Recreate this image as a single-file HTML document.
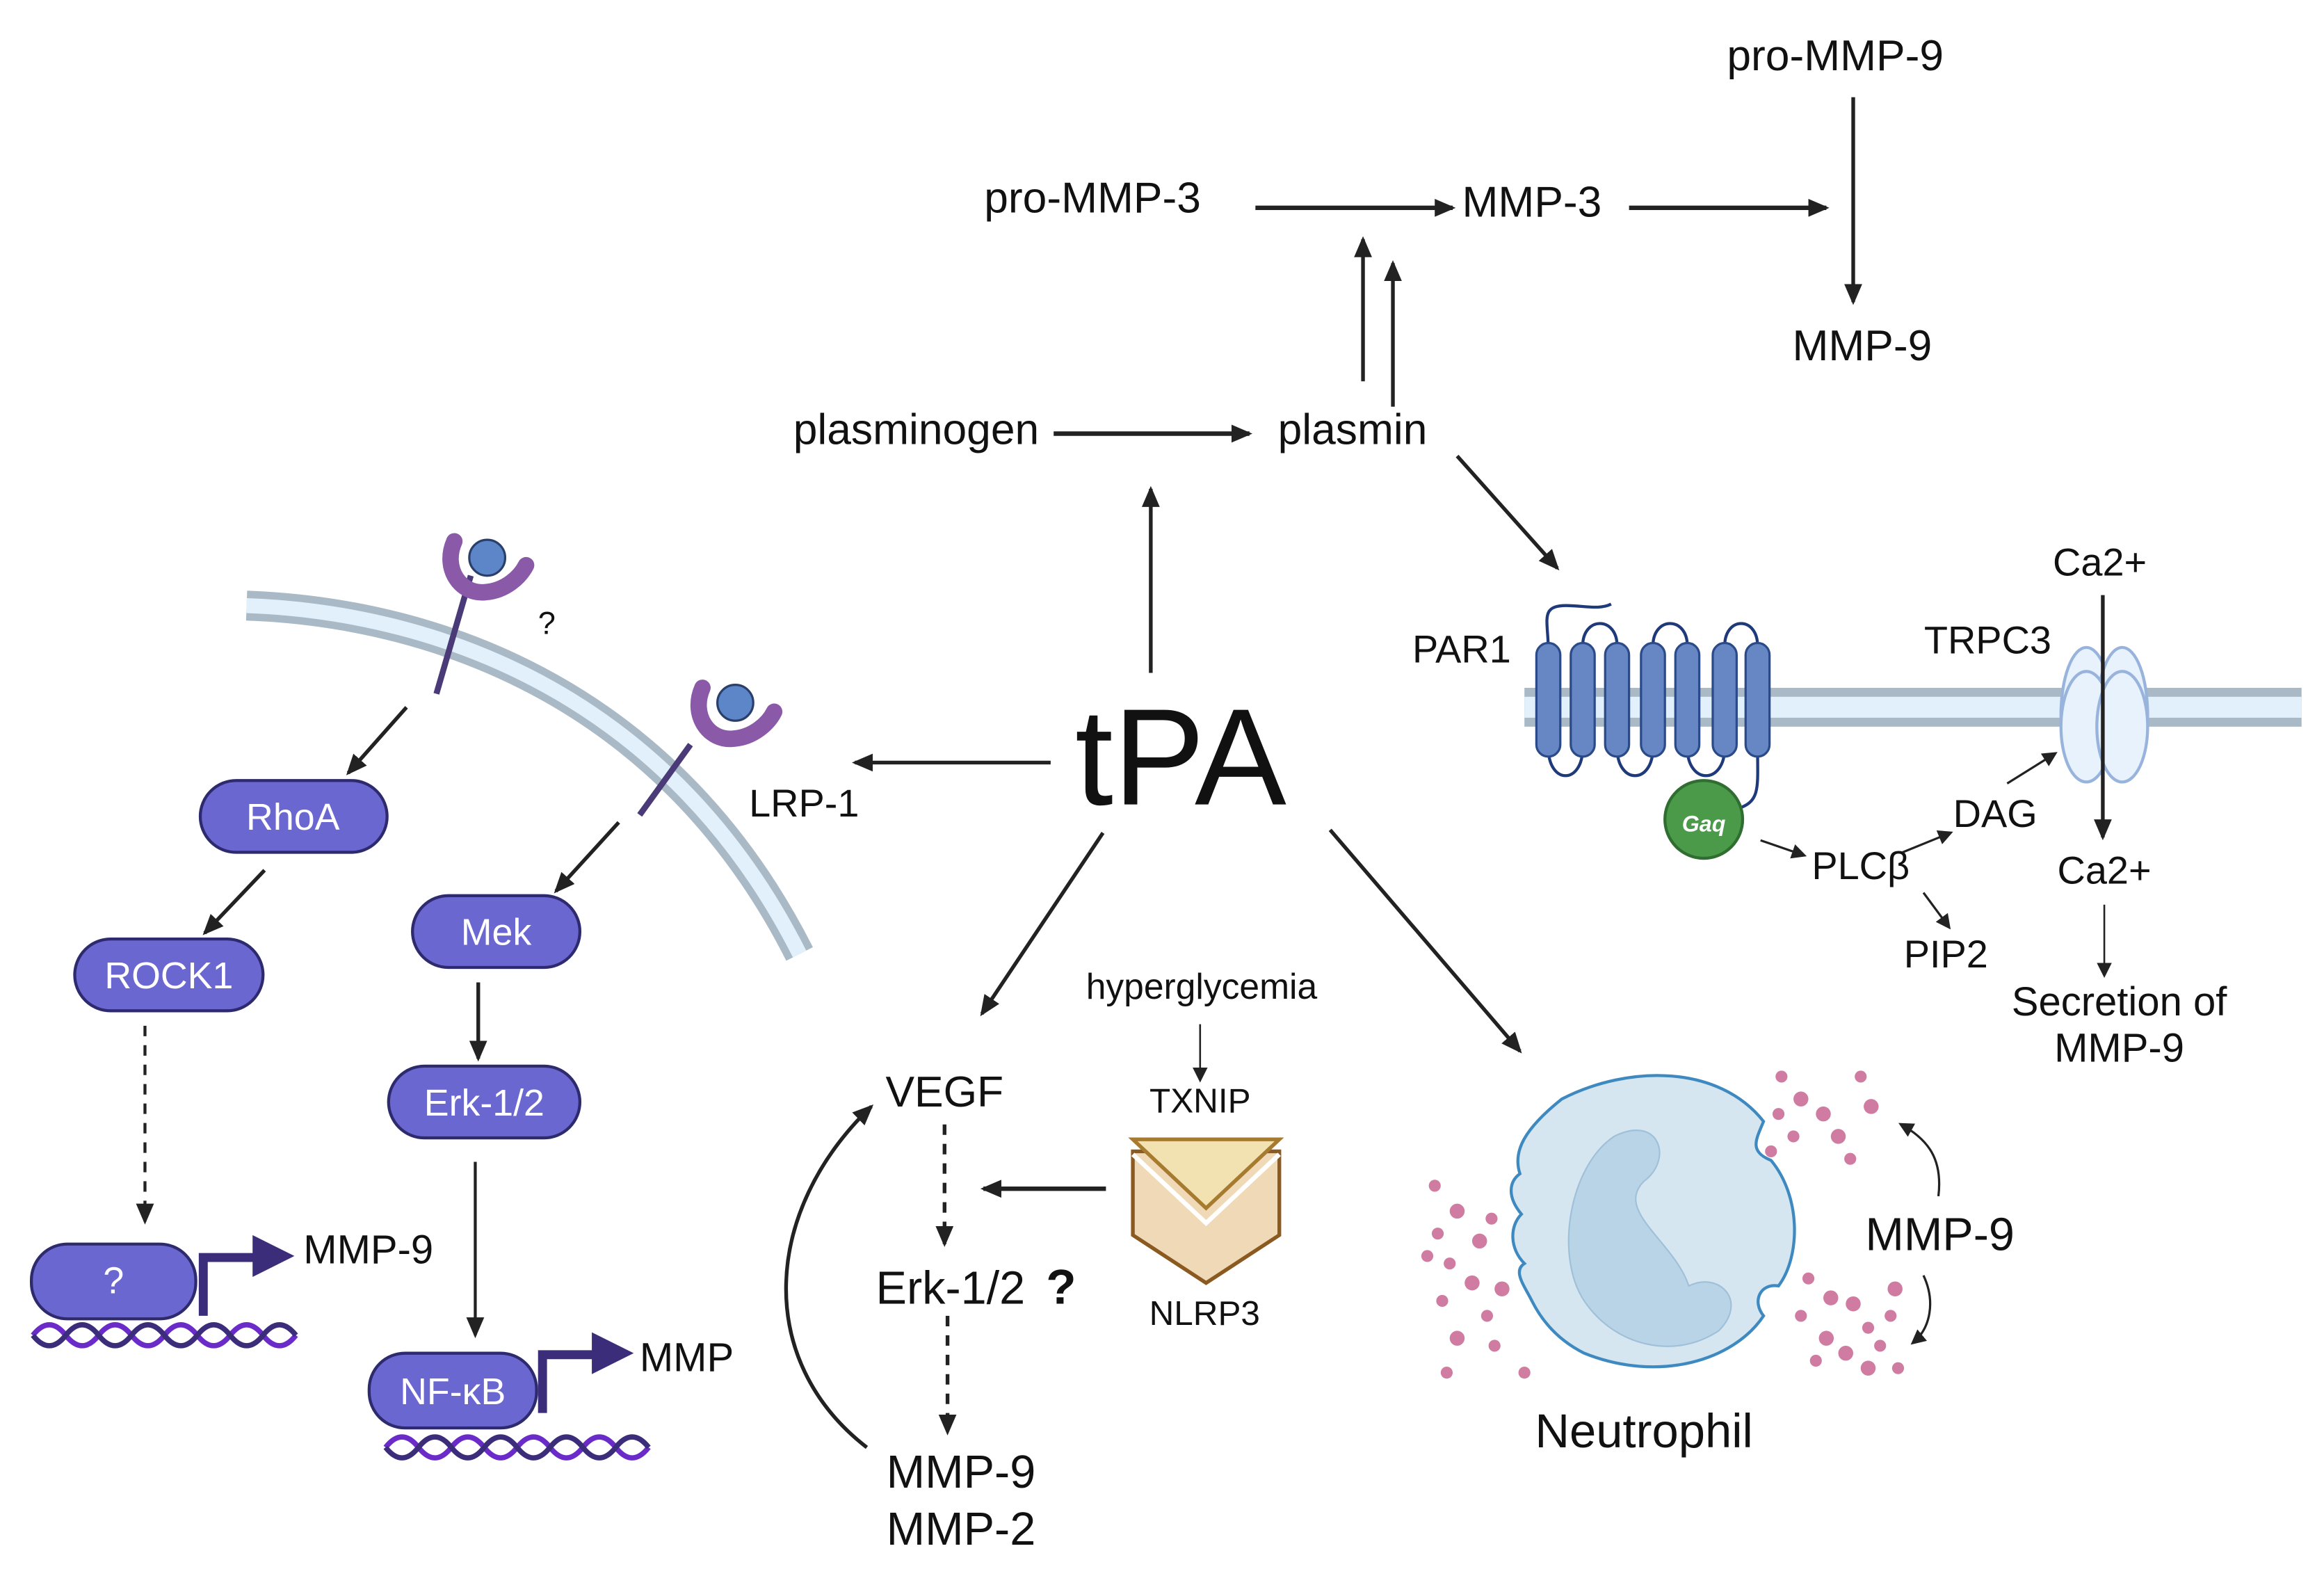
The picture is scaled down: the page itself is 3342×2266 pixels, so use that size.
<!DOCTYPE html>
<html><head><meta charset="utf-8"><style>
html,body{margin:0;padding:0;background:#fff;}
svg{display:block;}
text{font-family:"Liberation Sans",sans-serif;fill:#111;}
</style></head><body>
<svg width="3342" height="2266" viewBox="0 0 1555 1054" preserveAspectRatio="none" xmlns="http://www.w3.org/2000/svg">
<defs>
<marker id="a" markerWidth="10" markerHeight="10" refX="8" refY="5" orient="auto" markerUnits="userSpaceOnUse"><path d="M0,0 L10,5 L0,10 z" fill="#222"/></marker>
<marker id="c" markerWidth="14" markerHeight="12" refX="12" refY="6" orient="auto" markerUnits="userSpaceOnUse"><path d="M0,0 L14,6 L0,12 z" fill="#222"/></marker>
</defs>
<rect width="1555" height="1054" fill="#fff"/>

<g font-size="29">
<text x="1228" y="47" text-anchor="middle">pro-MMP-9</text>
<text x="1246" y="241" text-anchor="middle">MMP-9</text>
<text x="731" y="142" text-anchor="middle">pro-MMP-3</text>
<text x="1025" y="145" text-anchor="middle">MMP-3</text>
<text x="613" y="297" text-anchor="middle">plasminogen</text>
<text x="905" y="297" text-anchor="middle">plasmin</text>
</g>
<g font-size="26">
<text x="538" y="546" text-anchor="middle">LRP-1</text>
<text x="978" y="443" text-anchor="middle">PAR1</text>
<text x="1330" y="437" text-anchor="middle">TRPC3</text>
<text x="1405" y="385" text-anchor="middle">Ca2+</text>
<text x="1408" y="591" text-anchor="middle">Ca2+</text>
<text x="1335" y="553" text-anchor="middle">DAG</text>
<text x="1245" y="588" text-anchor="middle">PLCβ</text>
<text x="1302" y="647" text-anchor="middle">PIP2</text>
<text x="1418" y="679" text-anchor="middle" font-size="27">Secretion of</text>
<text x="1418" y="710" text-anchor="middle" font-size="27">MMP-9</text>
</g>
<text x="1298" y="836" text-anchor="middle" font-size="31">MMP-9</text>
<text x="1100" y="968" text-anchor="middle" font-size="32">Neutrophil</text>
<text x="804" y="668" text-anchor="middle" font-size="24">hyperglycemia</text>
<text x="803" y="744" text-anchor="middle" font-size="23">TXNIP</text>
<text x="806" y="886" text-anchor="middle" font-size="23">NLRP3</text>
<text x="632" y="740" text-anchor="middle" font-size="29">VEGF</text>
<text x="636" y="872" text-anchor="middle" font-size="31">Erk-1/2</text>
<text x="710" y="872" text-anchor="middle" font-size="33" font-weight="bold">?</text>
<text x="643" y="995" text-anchor="middle" font-size="31">MMP-9</text>
<text x="643" y="1033" text-anchor="middle" font-size="31">MMP-2</text>
<text x="203" y="845" font-size="27">MMP-9</text>
<text x="428" y="917" font-size="27">MMP</text>
<text x="360" y="424" font-size="21">?</text>
<text x="790" y="538" text-anchor="middle" font-size="92">tPA</text>

<g stroke="#222" fill="none">
<line x1="1240" y1="65" x2="1240" y2="202" stroke-width="2.5" marker-end="url(#c)"/>
<line x1="840" y1="139" x2="972" y2="139" stroke-width="3" marker-end="url(#c)"/>
<line x1="1090" y1="139" x2="1222" y2="139" stroke-width="3" marker-end="url(#c)"/>
<line x1="912" y1="255" x2="912" y2="160" stroke-width="2.5" marker-end="url(#c)"/>
<line x1="932" y1="272" x2="932" y2="176" stroke-width="2.5" marker-end="url(#c)"/>
<line x1="705" y1="290" x2="836" y2="290" stroke-width="3" marker-end="url(#c)"/>
<line x1="975" y1="305" x2="1042" y2="380" stroke-width="2.5" marker-end="url(#c)"/>
<line x1="770" y1="450" x2="770" y2="327" stroke-width="2.5" marker-end="url(#c)"/>
<line x1="703" y1="510" x2="572" y2="510" stroke-width="2.5" marker-end="url(#c)"/>
<line x1="738" y1="557" x2="657" y2="678" stroke-width="2.5" marker-end="url(#c)"/>
<line x1="890" y1="555" x2="1017" y2="703" stroke-width="2.5" marker-end="url(#c)"/>
<line x1="740" y1="795" x2="658" y2="795" stroke-width="3" marker-end="url(#c)"/>
<line x1="803" y1="685" x2="803" y2="722" stroke-width="1.2" marker-end="url(#a)"/>
<line x1="632" y1="752" x2="632" y2="832" stroke-width="2.5" stroke-dasharray="7,6" marker-end="url(#c)"/>
<line x1="634" y1="880" x2="634" y2="958" stroke-width="2.5" stroke-dasharray="7,6" marker-end="url(#c)"/>
<path d="M580,968 C505,910 510,810 583,740" stroke-width="2.5" marker-end="url(#c)"/>
<line x1="272" y1="473" x2="233" y2="517" stroke-width="2.5" marker-end="url(#c)"/>
<line x1="177" y1="582" x2="137" y2="624" stroke-width="2.5" marker-end="url(#c)"/>
<line x1="414" y1="550" x2="372" y2="596" stroke-width="2.5" marker-end="url(#c)"/>
<line x1="320" y1="657" x2="320" y2="708" stroke-width="2.5" marker-end="url(#c)"/>
<line x1="318" y1="777" x2="318" y2="893" stroke-width="2" marker-end="url(#c)"/>
<line x1="97" y1="686" x2="97" y2="817" stroke-width="2" stroke-dasharray="7,6" marker-end="url(#c)"/>
<line x1="1178" y1="562" x2="1207" y2="572" stroke-width="1.5" marker-end="url(#a)"/>
<line x1="1273" y1="570" x2="1305" y2="557" stroke-width="1.5" marker-end="url(#a)"/>
<line x1="1287" y1="597" x2="1304" y2="620" stroke-width="1.5" marker-end="url(#a)"/>
<line x1="1343" y1="524" x2="1375" y2="504" stroke-width="1.5" marker-end="url(#a)"/>
<line x1="1408" y1="605" x2="1408" y2="652" stroke-width="1.2" marker-end="url(#a)"/>
<path d="M1297,800 C1300,775 1290,762 1272,752" stroke-width="1.5" marker-end="url(#a)"/>
<path d="M1287,853 C1295,870 1292,888 1280,898" stroke-width="1.5" marker-end="url(#a)"/>
</g>

<path d="M165,405 C300,410 450,470 535,638" stroke="#a9bac6" stroke-width="20" fill="none"/>
<path d="M165,405 C300,410 450,470 535,638" stroke="#e2f0fb" stroke-width="10" fill="none"/>
<g>
<line x1="315" y1="385" x2="292" y2="464" stroke="#4b3a78" stroke-width="4"/>
<path d="M304,362 C296,380 308,398 325,396 C338,395 348,386 352,378" stroke="#8a5aa8" stroke-width="11" fill="none" stroke-linecap="round"/>
<circle cx="326" cy="373" r="12" fill="#5c86c8" stroke="#2a3f6a" stroke-width="1.5"/>
<line x1="462" y1="498" x2="428" y2="545" stroke="#4b3a78" stroke-width="4"/>
<path d="M470,460 C462,478 474,496 491,494 C504,493 514,484 518,476" stroke="#8a5aa8" stroke-width="11" fill="none" stroke-linecap="round"/>
<circle cx="492" cy="470" r="12" fill="#5c86c8" stroke="#2a3f6a" stroke-width="1.5"/>
</g>
<g fill="#6b67d1" stroke="#2e2a6e" stroke-width="2">
<rect x="134" y="522" width="125" height="48" rx="24"/>
<rect x="50" y="628" width="126" height="48" rx="24"/>
<rect x="276" y="599" width="112" height="48" rx="24"/>
<rect x="260" y="713" width="128" height="48" rx="24"/>
<rect x="247" y="905" width="112" height="50" rx="24"/>
<rect x="21" y="832" width="110" height="50" rx="24"/>
</g>
<g font-size="25" text-anchor="middle">
<text x="196" y="555" style="fill:#fff">RhoA</text>
<text x="113" y="661" style="fill:#fff">ROCK1</text>
<text x="332" y="632" style="fill:#fff">Mek</text>
<text x="324" y="746" style="fill:#fff">Erk-1/2</text>
<text x="303" y="939" style="fill:#fff">NF-κB</text>
<text x="76" y="865" style="fill:#fff">?</text>
</g>
<g fill="#3b2d7a">
<path d="M133,880 v-42 h36 v-12 l28,14 l-28,14 v-10 h-30 v36 z"/>
<path d="M360,945 v-42 h36 v-12 l28,14 l-28,14 v-10 h-30 v36 z"/>
</g>
<g fill="none" stroke-width="3.5">
<path d="M22,893 q11,-14 22,0 t22,0 t22,0 t22,0 t22,0 t22,0 t22,0 t22,0" stroke="#6a2bc9"/>
<path d="M22,893 q11,14 22,0 t22,0 t22,0 t22,0 t22,0 t22,0 t22,0 t22,0" stroke="#3b2d7a"/>
<path d="M258,968 q11,-14 22,0 t22,0 t22,0 t22,0 t22,0 t22,0 t22,0 t22,0" stroke="#6a2bc9"/>
<path d="M258,968 q11,14 22,0 t22,0 t22,0 t22,0 t22,0 t22,0 t22,0 t22,0" stroke="#3b2d7a"/>
</g>

<rect x="1020" y="460" width="520" height="26" fill="#a9bac6"/>
<rect x="1020" y="466" width="520" height="14" fill="#e2f0fb"/>
<g fill="none" stroke="#1f3a7a" stroke-width="2">
<path d="M1036,435 C1036,415 1030,405 1048,405 C1060,405 1070,408 1078,404"/>
<path d="M1059,432 C1059,412 1082,412 1082,432"/><path d="M1106,432 C1106,412 1129,412 1129,432"/><path d="M1154,432 C1154,412 1176,412 1176,432"/>
<path d="M1036,500 C1036,525 1059,525 1059,500"/><path d="M1082,500 C1082,525 1106,525 1106,500"/><path d="M1129,500 C1129,525 1154,525 1154,500"/>
<path d="M1176,500 C1176,525 1178,535 1165,540"/>
</g>
<g fill="#6787c4" stroke="#2a4a8a" stroke-width="1.5">
<rect x="1028" y="430" width="16" height="76" rx="8"/><rect x="1051" y="430" width="16" height="76" rx="8"/>
<rect x="1074" y="430" width="16" height="76" rx="8"/><rect x="1098" y="430" width="16" height="76" rx="8"/>
<rect x="1121" y="430" width="16" height="76" rx="8"/><rect x="1146" y="430" width="16" height="76" rx="8"/>
<rect x="1168" y="430" width="16" height="76" rx="8"/>
</g>
<circle cx="1140" cy="548" r="26" fill="#4b9a4a" stroke="#2f6e30" stroke-width="2"/>
<text x="1140" y="556" text-anchor="middle" font-size="15" font-style="italic" font-weight="bold" style="fill:#fff">Gaq</text>
<g fill="#e8f2fc" stroke="#98b3dc" stroke-width="2">
<ellipse cx="1396" cy="478" rx="17" ry="45"/><ellipse cx="1420" cy="478" rx="17" ry="45"/>
<ellipse cx="1396" cy="486" rx="17" ry="37"/><ellipse cx="1420" cy="486" rx="17" ry="37"/>
</g>
<line x1="1407" y1="398" x2="1407" y2="560" stroke="#222" stroke-width="2.5" marker-end="url(#c)"/>

<path d="M758,770 L856,770 L856,826 L807,858 L758,826 Z" fill="#f0d9b6" stroke="#8a5a20" stroke-width="2.5"/>
<path d="M758,762 L856,762 L807,808 Z" fill="#f2e2b2" stroke="#a67b30" stroke-width="2.5"/>
<path d="M758,772 L807,818 L856,772" fill="none" stroke="#fff" stroke-width="3"/>

<path d="M1045,735 C1090,712 1150,712 1180,750 C1175,762 1170,770 1185,776 C1205,800 1205,840 1190,860 C1178,858 1172,870 1180,880 C1160,910 1110,925 1060,905 C1040,895 1030,880 1025,870 C1020,860 1012,850 1020,845 C1010,835 1010,820 1018,812 C1008,800 1010,790 1017,785 C1012,770 1020,755 1045,735 Z" fill="#d5e6f1" stroke="#3e8ac0" stroke-width="2"/>
<path d="M1080,760 C1110,745 1120,775 1100,790 C1080,810 1120,830 1130,860 C1150,850 1170,870 1150,890 C1120,910 1080,900 1060,870 C1040,840 1050,780 1080,760 Z" fill="#b9d4e6" stroke="#9fc0d8" stroke-width="1"/>
<g fill="#c55b8a" opacity="0.8">
<circle cx="960" cy="793" r="4"/><circle cx="975" cy="810" r="5"/><circle cx="962" cy="825" r="4"/><circle cx="990" cy="830" r="5"/><circle cx="970" cy="845" r="4"/><circle cx="998" cy="815" r="4"/><circle cx="985" cy="858" r="5"/><circle cx="965" cy="870" r="4"/><circle cx="995" cy="880" r="4"/><circle cx="975" cy="895" r="5"/><circle cx="1000" cy="900" r="4"/><circle cx="968" cy="918" r="4"/><circle cx="1005" cy="862" r="5"/><circle cx="1020" cy="918" r="4"/><circle cx="955" cy="840" r="4"/>
<circle cx="1192" cy="720" r="4"/><circle cx="1205" cy="735" r="5"/><circle cx="1220" cy="745" r="5"/><circle cx="1190" cy="745" r="4"/><circle cx="1230" cy="760" r="5"/><circle cx="1200" cy="760" r="4"/><circle cx="1245" cy="720" r="4"/><circle cx="1252" cy="740" r="5"/><circle cx="1185" cy="770" r="4"/><circle cx="1238" cy="775" r="4"/>
<circle cx="1210" cy="855" r="4"/><circle cx="1225" cy="868" r="5"/><circle cx="1205" cy="880" r="4"/><circle cx="1240" cy="872" r="5"/><circle cx="1250" cy="888" r="4"/><circle cx="1222" cy="895" r="5"/><circle cx="1235" cy="905" r="5"/><circle cx="1258" cy="900" r="4"/><circle cx="1268" cy="862" r="5"/><circle cx="1270" cy="915" r="4"/><circle cx="1215" cy="910" r="4"/><circle cx="1250" cy="915" r="5"/><circle cx="1265" cy="880" r="4"/>
</g>
</svg>
</body></html>
